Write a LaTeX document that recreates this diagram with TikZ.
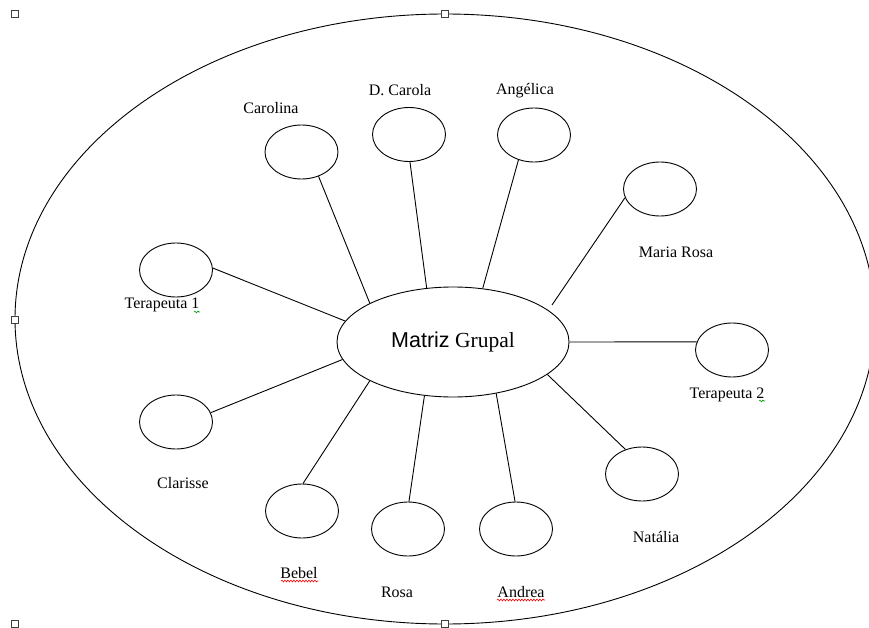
\documentclass[tikz,border=0pt]{standalone}
\usepackage{fontspec}
\setmainfont{Liberation Serif}
\newfontfamily\arialf{Liberation Sans}
\usetikzlibrary{shapes.geometric,decorations.pathmorphing,calc}
\begin{document}
\begin{tikzpicture}[x=1pt,y=-1pt,
  memberbox/.style={ellipse,draw,line width=0.9pt,minimum width=73pt,minimum height=54pt,inner sep=0pt},
  hubbox/.style={ellipse,draw,line width=0.9pt,minimum width=232pt,minimum height=110pt,inner sep=0pt,font=\fontsize{21.5}{24}\selectfont},
  lbl/.style={anchor=base,inner sep=0pt,font=\fontsize{16}{19}\selectfont},
  conn/.style={line width=0.9pt},
  handlebox/.style={rectangle,draw=black!75,fill=white,line width=0.8pt,minimum size=7pt,inner sep=0pt},
  spellmark/.style={decorate,decoration={snake,amplitude=0.9pt,segment length=3pt},line width=0.6pt}
]
\useasboundingbox (0,0) rectangle (869,628);
\clip (0,0) rectangle (869,628);
\fill[white] (0,0) rectangle (869,628);

% outer frame ellipse
\draw[line width=0.9pt] (445,319) ellipse [x radius=430pt, y radius=305pt];

% selection handles
\node[handlebox] (h1) at (15,14) {};
\node[handlebox] (h2) at (445,14) {};
\node[handlebox] (h3) at (15,320) {};
\node[handlebox] (h4) at (15,624) {};
\node[handlebox] (h5) at (445,624) {};

% hub
\node[hubbox] (c) at (453,342) {{\arialf Matriz} Grupal};

% members
\node[memberbox] (carolina) at (301.5,152) {};
\node[memberbox] (dcarola)  at (409,134.5) {};
\node[memberbox] (angelica) at (534,135) {};
\node[memberbox] (mrosa)    at (660,189) {};
\node[memberbox] (t1)       at (176,270) {};
\node[memberbox] (t2)       at (732,350) {};
\node[memberbox] (clarisse) at (176,422) {};
\node[memberbox] (bebel)    at (302,511) {};
\node[memberbox] (rosa)     at (408,529) {};
\node[memberbox] (andrea)   at (516,529) {};
\node[memberbox] (natalia)  at (642,474) {};

% labels
\node[lbl] (carolinaL) at (271,113.5) {Carolina};
\node[lbl] (dcarolaL)  at (400,95.5) {D. Carola};
\node[lbl] (angelicaL) at (525,94.5) {Angélica};
\node[lbl] (mrosaL)    at (676,257) {Maria Rosa};
\node[lbl] (t1L)       at (162,308) {Terapeuta 1};
\node[lbl] (t2L)       at (727,398) {Terapeuta 2};
\node[lbl] (clarisseL) at (183,488) {Clarisse};
\node[lbl] (bebelL)    at (299,578) {Bebel};
\node[lbl] (rosaL)     at (397,597) {Rosa};
\node[lbl] (andreaL)   at (521,597) {Andrea};
\node[lbl] (nataliaL)  at (656,542) {Natália};

% free end of the Maria Rosa connector (stops just short of the hub)
\coordinate (mrosaEnd) at ($(c.center)+(99,-37)$);

% connectors
\draw[conn] (c.155.5)  -- (carolina.-55);
\draw[conn] (c.116)    -- (dcarola.-88);
\draw[conn] (c.61.3)   -- (angelica.-122.7);
\draw[conn] (mrosaEnd) -- (mrosa.-166);
\draw[conn] (c.0)      -- (t2.167);
\draw[conn] (c.-19.8)  -- (natalia.124);
\draw[conn] (c.-50.8)  -- (andrea.92);
\draw[conn] (c.-118.2) -- (rosa.88);
\draw[conn] (c.-155.4) -- (bebel.88);
\draw[conn] (c.-171.9) -- (clarisse.15.5);
\draw[conn] (c.169.2)  -- (t1.3);

% spell-check marks
\draw[spellmark,red] (281,581) -- (318,581);
\draw[spellmark,red] (497,600) -- (545,600);
\draw[spellmark,green!60!black] (194,312) -- (200,312);
\draw[spellmark,green!60!black] (759,401) -- (765,401);
\end{tikzpicture}
\end{document}
